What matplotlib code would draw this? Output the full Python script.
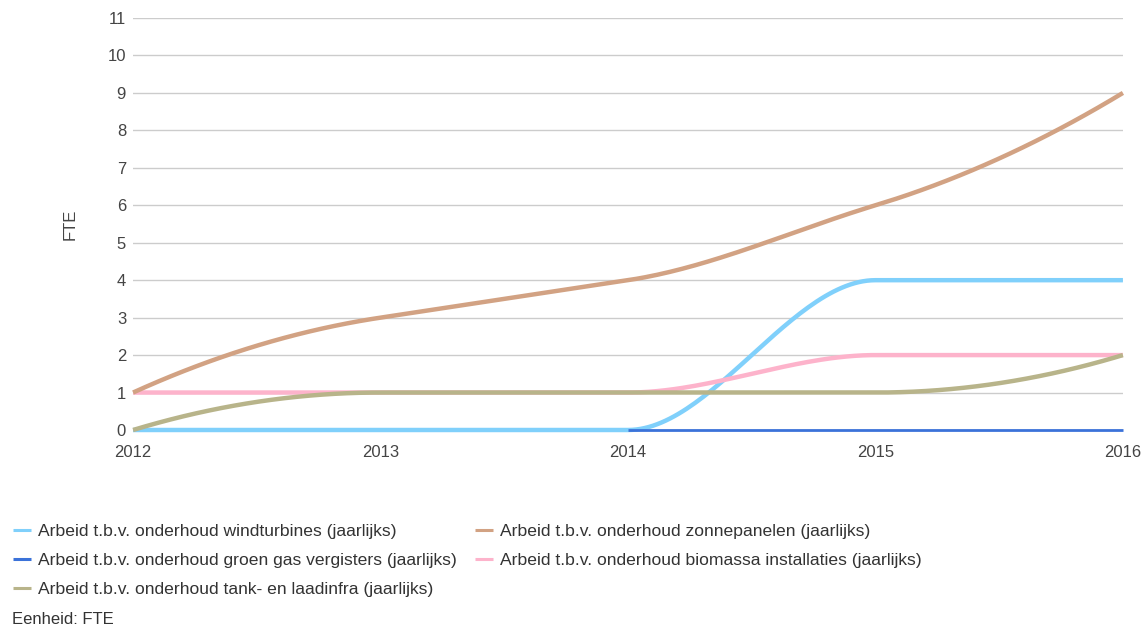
import numpy as np
import matplotlib
matplotlib.use("Agg")
import matplotlib.pyplot as plt

plt.rcParams['font.family'] = ['Liberation Sans', 'DejaVu Sans']

years = [2012, 2013, 2014, 2015, 2016]

windturbines = [0, 0, 0, 4, 4]
groen_gas = [None, None, 0, 0, 0]
zonnepanelen = [1, 3, 4, 6, 9]
biomassa = [1, 1, 1, 2, 2]
tank_laadinfra = [0, 1, 1, 1, 2]

labels = [
    "Arbeid t.b.v. onderhoud windturbines (jaarlijks)",
    "Arbeid t.b.v. onderhoud groen gas vergisters (jaarlijks)",
    "Arbeid t.b.v. onderhoud tank- en laadinfra (jaarlijks)",
    "Arbeid t.b.v. onderhoud zonnepanelen (jaarlijks)",
    "Arbeid t.b.v. onderhoud biomassa installaties (jaarlijks)",
]
y_ticks = list(range(0, 12))
x_ticks = years


def smooth_curve(x, y, n=60):
    """Shape-preserving cubic Hermite curve through the points."""
    x = np.asarray(x, float)
    y = np.asarray(y, float)
    h = np.diff(x)
    d = np.diff(y) / h
    m = np.zeros_like(y)
    for k in range(1, len(x) - 1):
        if d[k - 1] * d[k] > 0:
            m[k] = np.sign(d[k]) * min(abs(d[k - 1]), abs(d[k]))
    if len(x) > 2:
        m[0] = 2 * d[0] - m[1]
        m[-1] = 2 * d[-1] - m[-2]
        if m[0] * d[0] < 0:
            m[0] = 0
        if m[-1] * d[-1] < 0:
            m[-1] = 0
    else:
        m[:] = d[0]
    xs_all, ys_all = [], []
    for k in range(len(x) - 1):
        t = np.linspace(0, 1, n)
        h00 = 2 * t**3 - 3 * t**2 + 1
        h10 = t**3 - 2 * t**2 + t
        h01 = -2 * t**3 + 3 * t**2
        h11 = t**3 - t**2
        ys = h00 * y[k] + h10 * h[k] * m[k] + h01 * y[k + 1] + h11 * h[k] * m[k + 1]
        xs_all.append(x[k] + t * h[k])
        ys_all.append(ys)
    return np.concatenate(xs_all), np.concatenate(ys_all)


def series_curve(xv, yv):
    pts = [(a, b) for a, b in zip(xv, yv) if b is not None]
    xa, ya = zip(*pts)
    return smooth_curve(xa, ya)


fig = plt.figure(figsize=(11.47, 6.28), dpi=100)
ax = fig.add_axes([0.116, 0.3153, 0.863, 0.656])

series = [
    (windturbines, labels[0], "#80d0fb", 3.2, 3),
    (groen_gas, labels[1], "#3b72d9", 2.0, 4),
    (tank_laadinfra, labels[2], "#b8b48a", 3.2, 5),
    (zonnepanelen, labels[3], "#d2a283", 3.2, 6),
    (biomassa, labels[4], "#fdb3cb", 3.2, 4.5),
]
handles = []
for vals, lab, col, lw, z in series:
    xs, ys = series_curve(years, vals)
    ln, = ax.plot(xs, ys, color=col, lw=lw, label=lab, zorder=z,
                  solid_capstyle='butt', clip_on=False)
    handles.append(ln)

ax.set_xlim(2012, 2016)
ax.set_ylim(0, 11)
ax.set_yticks(y_ticks)
ax.set_xticks(x_ticks)
ax.set_xticklabels([str(v) for v in x_ticks])
ax.grid(axis='y', color='#cccccc', lw=1.0, zorder=0)
ax.grid(axis='x', visible=False)
ax.set_axisbelow(True)
for s in ax.spines.values():
    s.set_visible(False)
ax.tick_params(length=0, labelsize=12, colors='#444444')
ax.tick_params(axis='y', pad=5)
ax.tick_params(axis='x', pad=11)
ax.set_ylabel("FTE", fontsize=12, color='#444444')
ax.yaxis.set_label_coords(-0.0556, 0.5)

leg_kw = dict(loc='upper left', frameon=False, fontsize=12.6,
              handlelength=1.0, handletextpad=0.42, labelspacing=0.78,
              borderpad=0, borderaxespad=0, labelcolor='#333333')
leg1 = fig.legend(handles=handles[:3], labels=labels[:3],
                  bbox_to_anchor=(13 / 1147, 0.166), **leg_kw)
for h in leg1.legend_handles:
    h.set_linewidth(2.2)
leg2 = fig.legend(handles=handles[3:], labels=labels[3:],
                  bbox_to_anchor=(475 / 1147, 0.166), **leg_kw)
for h in leg2.legend_handles:
    h.set_linewidth(2.2)

fig.text(12 / 1147, 0.0135, "Eenheid: FTE", fontsize=12, color='#333333',
         va='center')

fig.savefig("out.png", dpi=100)
